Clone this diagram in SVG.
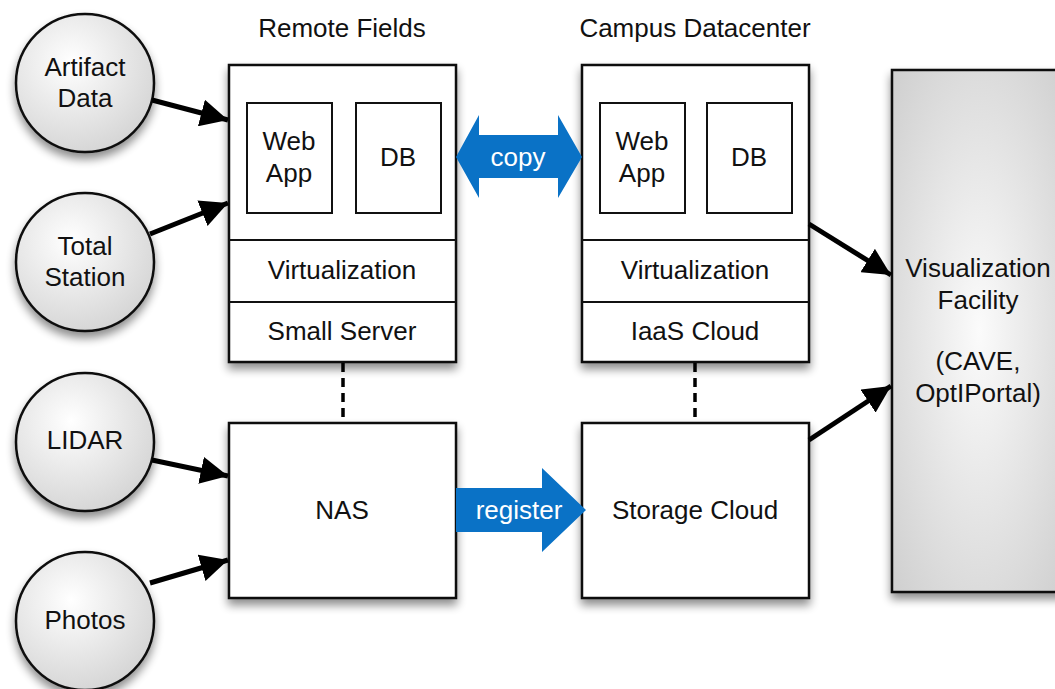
<svg xmlns="http://www.w3.org/2000/svg" width="1055" height="689" viewBox="0 0 1055 689">
<defs>
<style>
text{font-family:"Liberation Sans",Arial,sans-serif;font-size:26px;fill:#111;text-anchor:middle}
.w{fill:#fff}
.box{fill:#fff;stroke:#111;stroke-width:2.5}
.inner{fill:#fff;stroke:#111;stroke-width:2}
.circ{fill:url(#cg);stroke:#111;stroke-width:2.5}
.conn{stroke:#000;stroke-width:5;fill:none}
.dash{stroke:#000;stroke-width:3.5;stroke-dasharray:9,6;fill:none}
.blue{fill:#0a72c6}
</style>
<radialGradient id="cg" cx="0.4" cy="0.35" r="0.7">
<stop offset="0" stop-color="#ffffff"/>
<stop offset="1" stop-color="#d4d4d4"/>
</radialGradient>
<radialGradient id="vg" cx="0.5" cy="0.5" r="0.7">
<stop offset="0" stop-color="#fbfbfb"/>
<stop offset="1" stop-color="#cfcfcf"/>
</radialGradient>
<filter id="sh" x="-20%" y="-20%" width="140%" height="140%">
<feGaussianBlur in="SourceAlpha" stdDeviation="5"/>
<feOffset dx="0" dy="6" result="b"/>
<feComponentTransfer><feFuncA type="linear" slope="0.45"/></feComponentTransfer>
<feMerge><feMergeNode/><feMergeNode in="SourceGraphic"/></feMerge>
</filter>
<marker id="ah" viewBox="0 0 10 10" refX="10" refY="5" markerWidth="5.5" markerHeight="5.5" markerUnits="strokeWidth" orient="auto">
<path d="M0,0 L10,5 L0,10 z" fill="#000"/>
</marker>
</defs>
<rect width="1055" height="689" fill="#fff"/>

<text x="342" y="37">Remote Fields</text>
<text x="695" y="37">Campus Datacenter</text>

<g id="artifact-data"><circle class="circ" cx="85" cy="83" r="69" filter="url(#sh)"/><text x="85" y="76">Artifact</text><text x="85" y="107">Data</text></g>
<g id="total-station"><circle class="circ" cx="85" cy="262" r="69" filter="url(#sh)"/><text x="85" y="255">Total</text><text x="85" y="286">Station</text></g>
<g id="lidar"><circle class="circ" cx="85" cy="442" r="69" filter="url(#sh)"/><text x="85" y="449">LIDAR</text></g>
<g id="photos"><circle class="circ" cx="85" cy="621" r="69" filter="url(#sh)"/><text x="85" y="629">Photos</text></g>

<g id="remote-server">
<rect class="box" x="229" y="65" width="227" height="297" filter="url(#sh)"/>
<line x1="229" y1="240" x2="456" y2="240" stroke="#111" stroke-width="2"/>
<line x1="229" y1="302" x2="456" y2="302" stroke="#111" stroke-width="2"/>
<rect class="inner" x="247" y="103" width="85" height="110"/>
<rect class="inner" x="356" y="103" width="85" height="110"/>
<text x="289" y="150">Web</text><text x="289" y="182">App</text>
<text x="398" y="166">DB</text>
<text x="342" y="279">Virtualization</text>
<text x="342" y="340">Small Server</text>
</g>

<g id="campus-server">
<rect class="box" x="582" y="65" width="227" height="297" filter="url(#sh)"/>
<line x1="582" y1="240" x2="809" y2="240" stroke="#111" stroke-width="2"/>
<line x1="582" y1="302" x2="809" y2="302" stroke="#111" stroke-width="2"/>
<rect class="inner" x="600" y="103" width="85" height="110"/>
<rect class="inner" x="707" y="103" width="85" height="110"/>
<text x="642" y="150">Web</text><text x="642" y="182">App</text>
<text x="749" y="166">DB</text>
<text x="695" y="279">Virtualization</text>
<text x="695" y="340">IaaS Cloud</text>
</g>

<g id="nas"><rect class="box" x="229" y="423" width="227" height="175" filter="url(#sh)"/><text x="342" y="519">NAS</text></g>
<g id="storage-cloud"><rect class="box" x="582" y="423" width="227" height="175" filter="url(#sh)"/><text x="695" y="519">Storage Cloud</text></g>

<g id="visualization-facility">
<rect x="892" y="70" width="175" height="522" fill="url(#vg)" stroke="#111" stroke-width="2.5" filter="url(#sh)"/>
<text x="978" y="277">Visualization</text>
<text x="978" y="309">Facility</text>
<text x="978" y="370">(CAVE,</text>
<text x="978" y="402">OptIPortal)</text>
</g>

<g id="connectors">
<line class="conn" x1="152" y1="100" x2="228" y2="120" marker-end="url(#ah)"/>
<line class="conn" x1="150" y1="234" x2="228" y2="203" marker-end="url(#ah)"/>
<line class="conn" x1="152" y1="460" x2="228" y2="476" marker-end="url(#ah)"/>
<line class="conn" x1="150" y1="583" x2="228" y2="560" marker-end="url(#ah)"/>
<line class="conn" x1="809" y1="224" x2="891" y2="275" marker-end="url(#ah)"/>
<line class="conn" x1="809" y1="440" x2="891" y2="386" marker-end="url(#ah)"/>
<line class="dash" x1="343" y1="363" x2="343" y2="423"/>
<line class="dash" x1="695" y1="363" x2="695" y2="423"/>
<g id="copy-arrow">
<path class="blue" d="M456,157 L479,115 L479,135 L558,135 L558,115 L582,157 L558,198 L558,178 L479,178 L479,198 Z"/>
<text class="w" x="518" y="166">copy</text>
</g>
<g id="register-arrow">
<path class="blue" d="M456,488 L542,488 L542,468 L586,510 L542,552 L542,532 L456,532 Z"/>
<text class="w" x="519" y="519">register</text>
</g>
</g>
</svg>
